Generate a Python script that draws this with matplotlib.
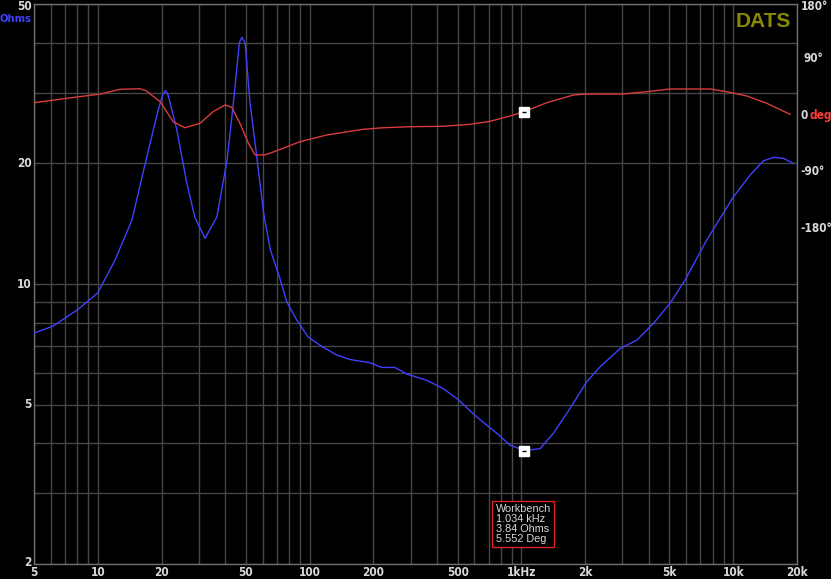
import matplotlib
matplotlib.use("Agg")
import matplotlib.pyplot as plt
from matplotlib import font_manager
from matplotlib.font_manager import FontProperties
import matplotlib.transforms as mtransforms

# ---------------- data ----------------
freq_z = [5, 6.15, 7.98, 8.9, 10.0, 12.07, 14.5, 16.9, 19.3, 20.2, 20.9, 21.5, 23.6, 26.3, 28.7,
          32.1, 36.5, 40.8, 43.7, 46.6, 47.9, 49.6, 52.3, 56.3, 60.7, 65.2, 72.5, 78.0, 87.0,
          98.3, 111.6, 133.9, 154.9, 192.8, 219, 253, 287.6, 357, 428, 495, 615, 765, 884,
          1034, 1224, 1415, 1697, 2034, 2351, 2923, 3504, 4197, 5032, 5925, 7500, 10020,
          12010, 13875, 15470, 17250, 19230]
ohms = [7.54, 7.85, 8.61, 9.02, 9.5, 11.48, 14.45, 20.4, 27.2, 29.6, 30.4, 29.6, 24.3, 17.9, 14.7,
        13.0, 14.7, 20.4, 28.4, 40.0, 41.3, 40.0, 28.4, 20.8, 15.0, 12.2, 10.3, 9.03, 8.13,
        7.38, 7.04, 6.65, 6.48, 6.36, 6.19, 6.19, 5.96, 5.75, 5.48, 5.18, 4.66, 4.24, 3.96,
        3.84, 3.88, 4.24, 4.89, 5.70, 6.21, 6.90, 7.24, 7.97, 8.95, 10.23, 12.88, 16.5,
        18.7, 20.3, 20.7, 20.6, 20.0]

freq_ph = [5, 7.13, 10.3, 12.7, 15.8, 16.9, 19.7, 22.7, 25.8, 30.4, 35.0, 39.9, 42.9, 46.9,
           51.4, 55.3, 62.0, 67.4, 78.0, 90.1, 120.5, 179.4, 222.8, 297.8, 427.7, 572, 711, 883,
           1034, 1318, 1758, 2035, 3029, 4049, 5016, 7776, 9324, 11590, 14400, 18550]
phase = [19.5, 26.5, 33.3, 40.8, 41.7, 38.6, 21.1, -10.6, -20.2, -13.2, 5.2, 15.9, 12.2, -13.2,
         -44.9, -63.5, -63.0, -58.7, -50.5, -42.4, -31.7, -22.7, -20.2, -18.6, -17.9, -14.8, -10.0, -1.6,
         5.552, 19.5, 31.7, 33.3, 33.3, 37.6, 41.3, 41.3, 37.0, 30.2, 18.6, 1.1]

cursor_freq = 1034
cursor_ohms = 3.84
cursor_phase = 5.552
cursor_lines = ["Workbench", "1.034 kHz", "3.84 Ohms", "5.552 Deg"]

xtick_vals = [5, 10, 20, 50, 100, 200, 500, 1000, 2000, 5000, 10000, 20000]
xtick_labels = ["5", "10", "20", "50", "100", "200", "500", "1kHz", "2k", "5k", "10k", "20k"]
ytick_vals = [2, 5, 10, 20, 50]
ytick_labels = ["2", "5", "10", "20", "50"]
ph_tick_vals = [180, 90, 0, -90, -180]
ph_tick_labels = ["180°", "90°", "0", "-90°", "-180°"]

# ---------------- fonts ----------------
def find_narrow_bold():
    best = None
    for f in font_manager.fontManager.ttflist:
        n = f.fname.lower()
        if ("narrow" in n or "condensed" in n) and ("bold" in n) and ("italic" not in n) \
                and ("oblique" not in n):
            if "liberation" in n or "arial" in n:
                return f.fname
            if best is None or "dejavusans" in n.replace(" ", ""):
                best = f.fname
    return best

nb = find_narrow_bold()
if nb:
    TICKFP = FontProperties(fname=nb, size=8.5)
    OHMFP = FontProperties(fname=nb, size=8.0)
else:
    TICKFP = FontProperties(family="Liberation Sans", weight="bold", size=8.0)
    OHMFP = FontProperties(family="Liberation Sans", weight="bold", size=7.5)

LBL = "#d8d8d8"
GRID = "#474747"
BLUE = "#4040ff"
RED = "#d83c3c"

W, H = 831, 579
fig = plt.figure(figsize=(W / 100, H / 100), dpi=100, facecolor="black")
L, R, T, B = 34, 797, 4, 564
ax = fig.add_axes([L / W, 1 - B / H, (R - L) / W, (B - T) / H])
ax.set_facecolor("black")
ax.set_xscale("log")
ax.set_yscale("log")
ax.set_xlim(5, 20000)
ax.set_ylim(2, 50)
ax.grid(True, which="both", color=GRID, lw=1.0)
ax.set_axisbelow(True)
for s in ax.spines.values():
    s.set_color("#707070")
    s.set_linewidth(1.0)
ax.tick_params(which="both", length=0, labelleft=False, labelbottom=False)

ax2 = ax.twinx()
ph_top = (115 - T) / 0.63
ph_bot = -(B - 115) / 0.63
ax2.set_ylim(ph_bot, ph_top)
ax2.set_yticks([])
for s in ax2.spines.values():
    s.set_visible(False)
ax2.patch.set_visible(False)
ax.set_zorder(1)
ax2.set_zorder(2)

# curves
ax2.plot(freq_ph, phase, color=RED, lw=1.0, zorder=3)
ax.plot(freq_z, ohms, color=BLUE, lw=1.0, zorder=4)

# cursor markers
for a, yv in ((ax, cursor_ohms), (ax2, cursor_phase)):
    a.plot([cursor_freq], [yv], marker="s", ms=6.5, mfc="white", mec="white", zorder=6)
    a.plot([cursor_freq], [yv], marker="_", ms=3, mec="black", mew=1, zorder=7)

# x tick labels
xtr = mtransforms.blended_transform_factory(ax.transData, ax.transAxes)
for v, s in zip(xtick_vals, xtick_labels):
    ax.text(v, -0.0145, s, transform=xtr, ha="center", va="center",
            fontproperties=TICKFP, color=LBL)

# left y tick labels
ytr = mtransforms.blended_transform_factory(ax.transAxes, ax.transData)
for v, s in zip(ytick_vals, ytick_labels):
    dy = 0
    if v == 50:
        dy = -1.5
    elif v == 2:
        dy = 1
    ax.annotate(s, xy=(0, v), xycoords=ytr, xytext=(-1.5, dy), textcoords="offset points",
                ha="right", va="center", fontproperties=TICKFP, color=LBL)
ax.annotate("Ohms", xy=(0, 50), xycoords=ytr, xytext=(-1.5, -10.5), textcoords="offset points",
            ha="right", va="center", fontproperties=OHMFP, color=BLUE)

# right phase labels
ptr = mtransforms.blended_transform_factory(ax2.transAxes, ax2.transData)
for v, s in zip(ph_tick_vals, ph_tick_labels):
    dy = -3.5 if v == 180 else 0
    dx = 4.5 if v == 90 else 2.5
    ax2.annotate(s, xy=(1, v), xycoords=ptr, xytext=(dx, dy), textcoords="offset points",
                 ha="left", va="center", annotation_clip=False,
                 fontproperties=TICKFP, color=LBL)
    if v == 0:
        ax2.annotate("deg", xy=(1, v), xycoords=ptr, xytext=(9.0, 0), textcoords="offset points",
                     ha="left", va="center", annotation_clip=False,
                     fontproperties=TICKFP, color="#ff3a3a")

# DATS logo
ax.text(0.992, 0.985, "DATS", transform=ax.transAxes, ha="right", va="top",
        family="Liberation Sans", fontsize=15, fontweight="bold", color="#8a8a00", zorder=8)

# cursor info box
ax.text(755, 2.52, "\n".join(cursor_lines), ha="left", va="center",
        family="Liberation Sans", fontsize=7.8, color=LBL, linespacing=0.98, zorder=8,
        bbox=dict(boxstyle="square,pad=0.3", fc="black", ec="#e02020", lw=1.0))

fig.savefig("out.png", dpi=100, facecolor="black")
